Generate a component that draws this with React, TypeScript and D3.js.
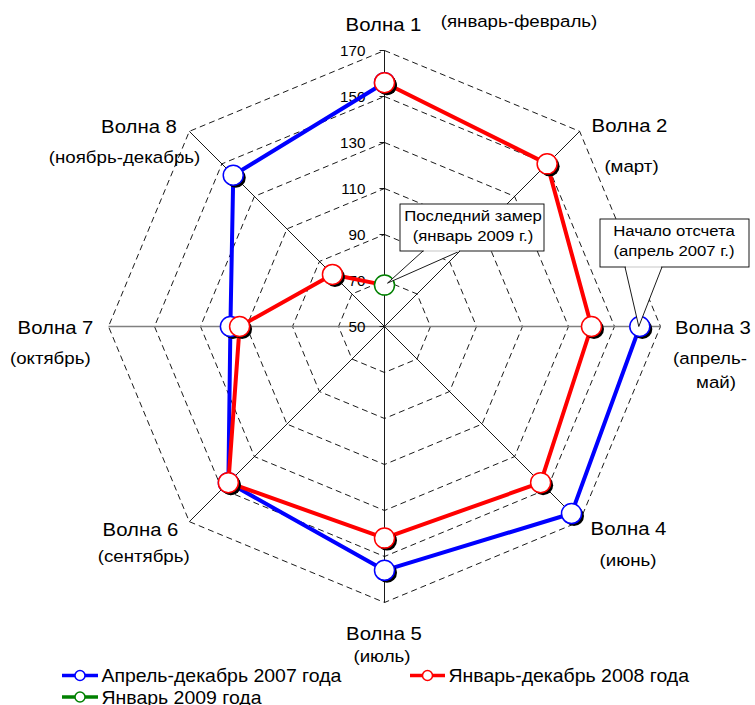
import React from "react";
import * as d3 from "d3";

const waves = ["Волна 1", "Волна 2", "Волна 3", "Волна 4", "Волна 5", "Волна 6", "Волна 7", "Волна 8"];
const ticks = [50, 70, 90, 110, 130, 150, 170];
const series2007 = [156, null, 161, 165, 156, 146, 117, 143];
const series2008 = [156, 150, 140, 146, 142, 146, 113, 82];
const series2009 = [68, null, null, null, null, null, null, null];
const order2007 = [2, 3, 4, 5, 6, 7, 0];
const order2008 = [0, 1, 2, 3, 4, 5, 6, 7];
const legendNames = ["Апрель-декабрь 2007 года", "Январь-декабрь 2008 года", "Январь 2009 года"];

const W = 755, H = 705;
const cx = 384.5, cy = 326.5, R = 276;
const FONT = "'Liberation Sans', Arial, sans-serif";
const SX = 1.1;

function T(props: { x: number; y: number; size: number; anchor?: string; sx?: number; children: React.ReactNode }) {
  const { x, y, size, anchor = "middle", sx = SX, children } = props;
  return (
    <text transform={`translate(${x},${y}) scale(${sx},1)`} fontSize={size} textAnchor={anchor}>
      {children}
    </text>
  );
}

export default function App() {
  const r = d3.scaleLinear().domain([50, 170]).range([0, R]);
  const angle = d3.scaleLinear().domain([0, 8]).range([0, 2 * Math.PI]);
  const pt = (i: number, v: number): [number, number] => {
    const a = angle(i);
    return [cx + r(v) * Math.sin(a), cy - r(v) * Math.cos(a)];
  };
  const line = d3.line();

  const rings = ticks.slice(1).map((t) => line(d3.range(9).map((i) => pt(i % 8, t))) as string);

  const p2007 = order2007.map((i) => pt(i, series2007[i] as number));
  const p2008 = order2008.map((i) => pt(i, series2008[i] as number));
  const p2009 = pt(0, series2009[0] as number);
  p2008.push(p2009);

  const marker = (p: [number, number], color: string, key: string, shadow = true) => (
    <g key={key}>
      {shadow && <circle cx={p[0] + 2.5} cy={p[1] + 2.5} r={10} fill="#000" />}
      <circle cx={p[0]} cy={p[1]} r={10} fill="#fff" stroke={color} strokeWidth={1.5} />
    </g>
  );

  const labels: { t: string; x: number; y: number; size: number }[] = [
    { t: waves[0], x: 383.5, y: 31, size: 18.5 },
    { t: "(январь-февраль)", x: 519, y: 27, size: 17 },
    { t: waves[1], x: 629.5, y: 132, size: 18.5 },
    { t: "(март)", x: 631.5, y: 172, size: 17 },
    { t: waves[2], x: 713, y: 334, size: 18.5 },
    { t: "(апрель-", x: 710, y: 364, size: 17 },
    { t: "май)", x: 716, y: 388, size: 17 },
    { t: waves[3], x: 628.5, y: 535, size: 18.5 },
    { t: "(июнь)", x: 628, y: 566, size: 17 },
    { t: waves[4], x: 384, y: 640, size: 18.5 },
    { t: "(июль)", x: 382, y: 662, size: 17 },
    { t: waves[5], x: 140.5, y: 536, size: 18.5 },
    { t: "(сентябрь)", x: 143.7, y: 561.5, size: 17 },
    { t: waves[6], x: 55.5, y: 333.5, size: 18.5 },
    { t: "(октябрь)", x: 50.3, y: 363.5, size: 17 },
    { t: waves[7], x: 139, y: 133, size: 18.5 },
    { t: "(ноябрь-декабрь)", x: 124.5, y: 163, size: 17 },
  ];

  const legend = [
    { name: legendNames[0], color: "#0000ff", x: 62, x2: 98, y: 675.5 },
    { name: legendNames[1], color: "#ff0000", x: 410, x2: 445, y: 675.5 },
    { name: legendNames[2], color: "#008000", x: 62, x2: 98, y: 697 },
  ];

  const p3 = pt(2, series2007[2] as number);

  return (
    <svg width={W} height={H} style={{ position: "absolute", left: 0, top: 0, background: "#fff" }} fontFamily={FONT}>
      <rect width={W} height={H} fill="#fff" />
      {rings.map((d, i) => (
        <path key={i} d={d} fill="none" stroke="#000" strokeWidth={0.9} strokeDasharray="6,4" />
      ))}
      {d3.range(8).map((i) => {
        const p = pt(i, 170);
        const horiz = i === 2 || i === 6;
        return (
          <line key={i} x1={cx} y1={cy} x2={p[0]} y2={p[1]} stroke={horiz ? "#808080" : "#000"} strokeWidth={horiz ? 1.5 : 0.9} />
        );
      })}
      {ticks.map((t) => {
        const p = pt(0, t);
        return (
          <g key={t}>
            <line x1={p[0] - 5} x2={p[0]} y1={p[1]} y2={p[1]} stroke="#000" strokeWidth={0.9} />
            <T x={p[0] - 19} y={p[1] + 5.5} size={14.5} anchor="end" sx={1.05}>{t}</T>
          </g>
        );
      })}
      <path d={line(p2007) as string} fill="none" stroke="#0000ff" strokeWidth={4} strokeLinejoin="round" />
      {p2007.map((p, i) => marker(p, "#0000ff", "b" + i))}
      <path d={line(p2008) as string} fill="none" stroke="#ff0000" strokeWidth={4} strokeLinejoin="round" />
      {p2008.slice(0, 8).map((p, i) => marker(p, "#ff0000", "r" + i))}
      {marker(p2009, "#008000", "g", false)}

      <path d={`M423,251 L${p2009[0] + 3},${p2009[1] - 2} L460,251`} fill="#fff" stroke="#000" strokeWidth={0.9} />
      <rect x={400} y={204} width={144} height={47} fill="#fff" stroke="#000" strokeWidth={0.9} />
      <line x1={424} x2={459} y1={251} y2={251} stroke="#fff" strokeWidth={1.5} />
      <T x={473} y={221} size={15.2}>Последний замер</T>
      <T x={473} y={241} size={15.2}>(январь 2009 г.)</T>

      <path d={`M625,267 L${p3[0] - 1},${p3[1]} L662,267`} fill="#fff" stroke="#000" strokeWidth={0.9} />
      <rect x={600} y={219} width={149} height={48} fill="#fff" stroke="#000" strokeWidth={0.9} />
      <line x1={626} x2={661} y1={267} y2={267} stroke="#fff" strokeWidth={1.5} />
      <T x={674} y={236} size={15.2}>Начало отсчета</T>
      <T x={674} y={256} size={15.2}>(апрель 2007 г.)</T>

      {labels.map((l, i) => (
        <T key={i} x={l.x} y={l.y} size={l.size}>{l.t}</T>
      ))}

      {legend.map((l, i) => (
        <g key={i}>
          <line x1={l.x} x2={l.x2} y1={l.y} y2={l.y} stroke={l.color} strokeWidth={3.5} />
          <circle cx={(l.x + l.x2) / 2} cy={l.y} r={5} fill="#fff" stroke={l.color} strokeWidth={1.5} />
          <T x={l.x2 + 3.5} y={l.y + 6.5} size={17.7} anchor="start">{l.name}</T>
        </g>
      ))}
    </svg>
  );
}
